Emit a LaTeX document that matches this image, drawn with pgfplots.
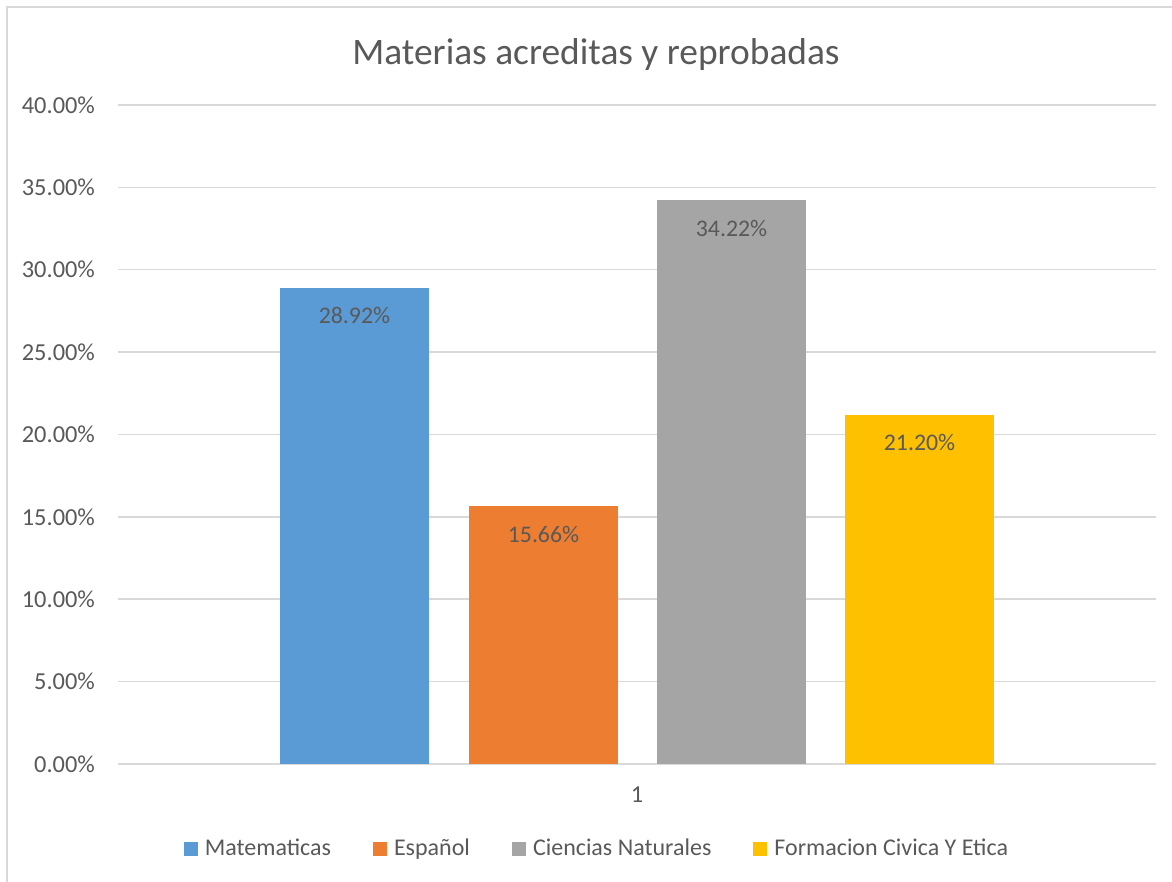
\documentclass[border=0pt]{standalone}
\usepackage{pgfplots}
\pgfplotsset{compat=1.18}
\usepackage{fontspec}
\setmainfont{Carlito}
\definecolor{txt}{HTML}{595959}
\definecolor{grd}{HTML}{D9D9D9}
\definecolor{c1}{HTML}{5B9BD5}
\definecolor{c2}{HTML}{ED7D31}
\definecolor{c3}{HTML}{A5A5A5}
\definecolor{c4}{HTML}{FFC000}
\begin{document}
\begin{tikzpicture}
\useasboundingbox (-59pt,-59pt) rectangle (527pt,382pt);
\draw[grd, line width=0.75pt] (-55.5pt,-60pt) -- (-55.5pt,378.5pt) -- (530pt,378.5pt);
\begin{axis}[
  scale only axis,
  width=519pt, height=329.5pt,
  xmin=0, xmax=1038, ymin=0, ymax=40,
  axis line style={draw=none},
  major tick length=0pt,
  ymajorgrids, grid style={grd, line width=0.75pt},
  ytick={0,5,...,40},
  yticklabel={\pgfmathprintnumber[fixed,fixed zerofill,precision=2]{\tick}\%},
  /pgf/number format/assume math mode=true,
  xtick={519}, xticklabels={1},
  ticklabel style={font=\fontsize{12.2}{14}\selectfont, text=txt},
  yticklabel style={xshift=-8pt},
  xticklabel style={yshift=-8pt},
  title={Materias acreditas y reprobadas},
  title style={font=\fontsize{18.7}{22}\selectfont, text=txt, at={(0.4605,1.043)}, anchor=base},
  ybar, bar shift=0pt, bar width=149,
  nodes near coords={\pgfmathprintnumber[fixed,fixed zerofill,precision=2]{\pgfplotspointmeta}\%},
  nodes near coords style={font=\fontsize{11.9}{14}\selectfont, text=txt, anchor=center, yshift=-14pt},
  legend columns=4,
  legend image code/.code={\fill[#1] (0pt,-3.5pt) rectangle (7pt,3.5pt); \path (8.5pt,0pt);},
  legend style={draw=none, fill=none, at={(0.4624,-0.129)}, anchor=center,
    font=\fontsize{12}{14}\selectfont, text=txt,
    /tikz/every even column/.append style={column sep=19pt}},
]
\addplot[fill=c1, draw=none] coordinates {(236.5,28.92)};
\addlegendentry{Matematicas}
\addplot[fill=c2, draw=none] coordinates {(425.5,15.66)};
\addlegendentry{Español}
\addplot[fill=c3, draw=none] coordinates {(613.5,34.22)};
\addlegendentry{Ciencias Naturales}
\addplot[fill=c4, draw=none] coordinates {(801.5,21.20)};
\addlegendentry{Formacion Civica Y Etica}
\end{axis}
\end{tikzpicture}
\end{document}
